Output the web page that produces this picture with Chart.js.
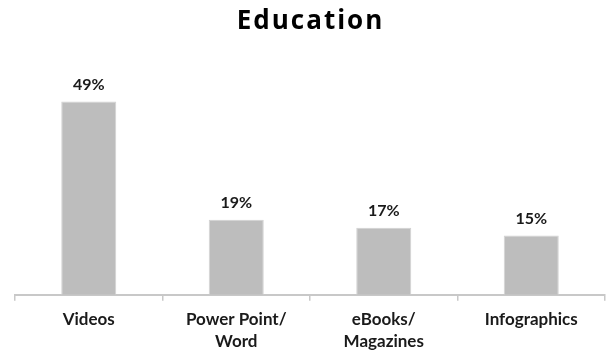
<!DOCTYPE html>
<html>
<head>
<meta charset="utf-8">
<script src="https://cdn.jsdelivr.net/npm/chart.js@4/dist/chart.umd.min.js"></script>
<style>
  html, body { margin: 0; padding: 0; background: #ffffff; }
  #wrap { position: relative; width: 607px; height: 352px; }
  #title {
    position: absolute; left: 0; top: 6px; width: 607px; padding-left: 14px; box-sizing: border-box;
    text-align: center; font-family: "Open Sans", sans-serif; font-weight: 700;
    font-size: 26px; line-height: 26px; letter-spacing: 2px; color: #000;
  }
  canvas { position: absolute; left: 0; top: 0; }
</style>
</head>
<body>
<div id="wrap">
  <canvas id="c" width="607" height="352"></canvas>
  <div id="title">Education</div>
</div>
<script>
const categories = [["Videos"], ["Power Point/", "Word"], ["eBooks/", "Magazines"], ["Infographics"]];
const values = [49, 19, 17, 15];
const valueLabels = ["49%", "19%", "17%", "15%"];

const valueLabelPlugin = {
  id: 'valueLabels',
  afterDatasetsDraw(chart) {
    const ctx = chart.ctx;
    const meta = chart.getDatasetMeta(0);
    ctx.save();
    ctx.font = 'bold 16px Lato, sans-serif';
    ctx.fillStyle = '#1a1a1a';
    ctx.textAlign = 'center';
    ctx.textBaseline = 'middle';
    meta.data.forEach((bar, i) => {
      ctx.fillText(valueLabels[i], bar.x, bar.y - 17);
    });
    ctx.restore();
  }
};

new Chart(document.getElementById('c'), {
  type: 'bar',
  data: {
    labels: categories,
    datasets: [{
      data: values,
      backgroundColor: '#bdbdbd',
      borderColor: '#d2d2d2',
      borderWidth: 1,
      categoryPercentage: 1.0,
      barPercentage: 0.373
    }]
  },
  options: {
    responsive: false,
    animation: false,
    devicePixelRatio: 1,
    layout: { padding: { left: 15, right: 2, top: 58, bottom: -9 } },
    plugins: {
      legend: { display: false },
      title: { display: false },
      tooltip: { enabled: false }
    },
    scales: {
      y: { display: false, min: 0, max: 60 },
      x: {
        offset: true,
        border: { display: true, color: '#c8c8c8', width: 2 },
        grid: { display: true, drawOnChartArea: false, drawTicks: true, tickLength: 6, color: '#c8c8c8', lineWidth: 1.5, offset: true },
        ticks: {
          color: '#1a1a1a',
          padding: 8,
          maxRotation: 0,
          autoSkip: false,
          font: { family: 'Lato, sans-serif', size: 17, weight: 'bold', lineHeight: 1.3 }
        }
      }
    }
  },
  plugins: [valueLabelPlugin]
});
</script>
</body>
</html>
